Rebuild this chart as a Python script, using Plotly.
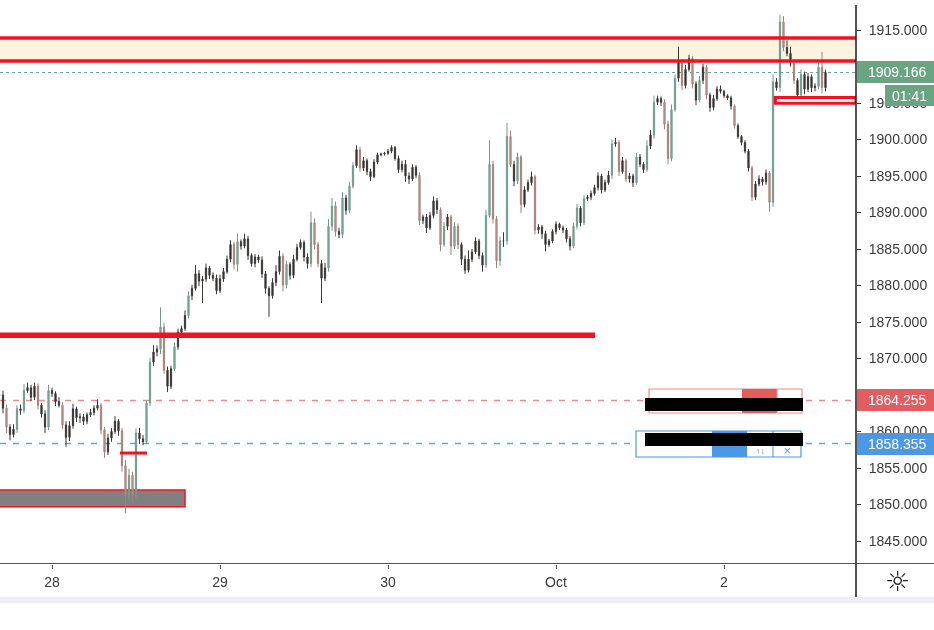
import pandas as pd
import plotly.graph_objects as go

START = "2020-09-27 16:30"
closes = [
 1865.0,1863.2,1860.6,1859.6,1860.3,1863.1,1862.9,1865.6,1866.0,1864.7,
 1866.2,1863.6,1862.4,1860.6,1865.6,1865.2,1864.1,1863.6,1860.9,1859.2,
 1860.8,1863.1,1861.9,1862.0,1861.4,1862.3,1862.6,1863.2,1863.6,1860.2,
 1857.2,1859.1,1860.0,1861.4,1860.1,1855.3,1851.2,1854.0,1851.3,1859.8,
 1859.0,1858.6,1863.9,1869.5,1870.9,1871.3,1874.3,1868.4,1866.2,1868.6,
 1871.6,1873.6,1874.1,1875.9,1878.6,1879.6,1881.6,1880.6,1880.9,1882.4,
 1881.4,1881.0,1879.3,1880.9,1881.9,1883.6,1885.6,1882.9,1886.0,1885.4,
 1886.4,1884.1,1883.0,1883.9,1883.5,1881.6,1879.6,1878.6,1880.4,1881.9,
 1884.0,1880.1,1882.9,1881.4,1883.6,1885.2,1885.9,1883.9,1883.0,1888.6,
 1885.6,1883.0,1881.0,1882.4,1888.1,1890.9,1887.4,1887.0,1892.0,1890.3,
 1893.6,1896.4,1898.6,1896.1,1897.1,1895.6,1894.9,1896.9,1897.9,1898.0,
 1898.1,1898.4,1898.9,1897.4,1895.9,1896.6,1895.0,1894.6,1896.2,1895.1,
 1888.9,1889.4,1887.9,1889.6,1891.6,1890.4,1885.6,1888.1,1889.4,1885.4,
 1888.1,1885.6,1883.6,1882.1,1883.6,1884.6,1886.1,1884.1,1882.8,1889.6,
 1896.6,1889.1,1883.4,1886.1,1886.1,1900.4,1896.6,1894.3,1897.6,1891.1,
 1893.1,1894.1,1894.9,1887.6,1888.0,1887.1,1885.6,1886.1,1887.4,1888.4,
 1887.9,1887.6,1886.4,1885.4,1888.1,1890.6,1888.6,1891.9,1892.1,1892.6,
 1893.4,1895.0,1893.1,1894.1,1895.1,1899.4,1899.6,1895.6,1897.1,1894.6,
 1895.0,1894.1,1897.6,1896.6,1895.9,1899.1,1900.6,1905.1,1905.6,1905.1,
 1902.1,1897.4,1904.1,1908.4,1910.6,1907.4,1909.6,1911.1,1907.6,1905.4,
 1908.1,1909.9,1906.1,1904.4,1905.6,1906.9,1906.6,1906.0,1905.7,1904.6,
 1901.9,1900.4,1899.6,1898.4,1896.1,1892.1,1893.9,1894.6,1894.2,1895.4,
 1891.4,1907.9,1907.1,1916.1,1912.6,1911.8,1910.6,1908.1,1906.1,1908.9,
 1906.9,1908.6,1907.1,1907.3,1909.9,1907.1,1909.17,
]
upper_wicks = [
 0.8,0.6,0.5,0.4,0.7,0.5,0.6,0.9,0.7,0.4,
 0.5,0.4,0.3,0.5,0.8,0.4,0.3,0.6,0.4,0.5,
 0.6,0.7,0.3,0.5,0.4,0.3,0.5,0.4,0.8,0.3,
 0.4,0.6,0.5,0.7,0.3,0.4,0.8,0.9,0.5,0.6,
 0.7,0.5,0.4,0.6,0.9,0.5,2.7,0.6,0.5,0.4,
 0.6,0.5,0.4,0.7,0.6,0.5,1.2,0.5,0.4,0.6,
 0.3,0.4,0.5,0.6,0.5,0.5,0.6,0.4,1.1,0.3,
 0.7,0.4,0.3,0.4,0.3,0.5,0.4,0.3,0.6,0.9,
 0.8,0.4,0.5,0.3,0.6,0.5,0.4,0.3,0.5,1.5,
 0.6,0.4,0.5,0.7,1.0,1.1,0.6,0.5,0.8,0.4,
 0.6,0.5,0.6,0.4,0.5,0.3,0.4,0.4,0.3,0.2,
 0.2,0.3,0.3,0.2,0.4,0.5,0.6,0.5,0.4,0.3,
 0.4,0.3,0.4,0.5,0.6,0.4,0.3,0.6,0.4,0.3,
 0.6,0.4,0.3,0.5,1.2,0.4,0.5,0.3,0.4,0.8,
 3.3,0.5,0.4,0.6,1.2,1.9,0.8,0.5,0.6,0.3,
 0.5,0.4,0.7,0.3,0.4,0.3,0.4,0.3,0.3,0.4,
 0.2,0.3,0.3,0.4,0.5,0.6,0.3,0.5,0.3,0.4,
 0.4,0.5,0.3,0.4,0.6,0.6,0.6,0.3,0.5,0.3,
 0.4,0.3,0.6,0.4,0.3,0.8,0.7,0.9,0.4,0.3,
 0.4,0.5,0.7,0.5,2.1,0.4,0.6,0.5,0.3,0.4,
 0.6,0.5,0.3,0.3,0.5,0.4,0.5,0.2,0.2,0.3,
 0.2,0.3,0.2,0.3,0.3,0.3,0.4,0.5,0.3,0.5,
 0.3,1.0,0.5,1.0,0.8,1.0,0.9,0.4,0.3,0.7,
 0.4,0.5,0.3,0.4,0.9,2.1,0.4,
]
lower_wicks = [
 0.9,0.7,0.8,0.8,0.4,0.5,0.6,0.4,0.3,0.5,
 0.4,0.6,0.5,0.8,0.4,0.5,0.6,0.3,0.6,1.3,
 0.5,0.4,0.6,0.7,0.5,0.4,0.3,0.4,0.3,0.6,
 0.8,0.4,0.5,0.3,0.7,0.8,2.4,0.6,0.9,0.5,
 0.7,0.5,0.3,0.4,0.5,0.6,0.7,0.5,0.8,0.4,
 0.3,0.4,0.5,0.3,0.4,0.6,0.3,0.7,3.0,0.4,
 0.5,0.4,0.5,0.3,0.4,0.3,0.4,0.7,1.0,0.5,
 0.3,0.6,0.4,0.5,0.4,0.6,0.7,2.9,0.4,0.5,
 0.4,0.9,0.5,0.6,0.4,0.3,0.3,0.6,0.7,0.5,
 0.7,0.5,3.4,0.4,0.5,0.6,0.7,0.5,0.5,0.6,
 0.4,0.3,0.3,0.5,0.4,0.5,0.6,0.2,0.3,0.2,
 0.2,0.2,0.3,0.3,0.5,0.4,0.8,0.7,0.3,0.4,
 0.6,0.5,0.7,0.3,0.4,0.6,0.9,0.3,0.5,1.2,
 0.4,0.6,0.8,0.5,0.3,0.4,0.3,0.5,0.9,0.4,
 0.3,0.6,1.0,0.7,0.8,0.5,0.4,0.7,0.4,1.2,
 0.4,0.3,0.4,0.6,0.5,0.7,0.9,0.3,0.3,0.4,
 0.3,0.4,0.5,0.6,0.3,0.4,0.5,0.3,0.3,0.4,
 0.3,0.4,0.5,0.3,0.3,0.5,0.4,0.6,0.3,0.4,
 0.5,0.6,0.3,0.4,0.5,0.3,0.4,0.5,0.4,0.5,
 0.7,0.8,0.4,0.3,0.5,0.6,0.4,0.3,0.6,0.7,
 0.3,0.5,0.6,0.6,0.4,0.3,0.3,0.3,0.3,0.5,
 0.4,0.3,0.4,0.3,0.5,0.5,0.4,0.3,0.5,0.4,
 1.3,0.6,0.4,0.6,0.5,0.4,0.6,0.5,0.5,0.4,
 0.7,0.4,0.6,0.5,0.4,0.8,0.5,
]
tick_days = ["2020-09-28", "2020-09-29", "2020-09-30", "2020-10-01", "2020-10-02"]
tick_day_labels = ["28", "29", "30", "Oct", "2"]
price_ticks = [1845, 1850, 1855, 1860, 1870, 1875, 1880, 1885, 1890, 1895, 1900, 1905, 1915]

zone_top, zone_bottom = 1913.9, 1910.75
long_level = 1873.2
long_level_end = "2020-10-01 05:34"
demand_top, demand_bottom = 1852.0, 1849.7
demand_end = "2020-09-28 19:00"
short_level = 1857.05
short_start, short_end = "2020-09-28 09:43", "2020-09-28 13:34"
box_top, box_bottom = 1905.75, 1904.95
box_start = "2020-10-02 07:20"
last_price, stop_price, entry_price = 1909.166, 1864.255, 1858.355

RED = "#f5101f"; GREEN_TAG = "#6aa583"; RED_TAG = "#e35d60"; BLUE_TAG = "#4c98e2"
W, H = 934, 630
PLOT_W, PLOT_H = 856, 564
PLOT_FRAC = PLOT_W / W

times = pd.date_range(START, periods=len(closes), freq="30min")
opens = [closes[0]] + closes[:-1]
highs = [max(o, c) + u for o, c, u in zip(opens, closes, upper_wicks)]
lows = [min(o, c) - l for o, c, l in zip(opens, closes, lower_wicks)]
df = pd.DataFrame({"t": times, "o": opens, "h": highs, "l": lows, "c": closes})
fast = (df.o - df.c).abs() > 2.4


def px(x):
    return x / W


def py(y):
    return 1 - y / H


fig = go.Figure()
styles = (
    (df[~fast], "#3b3835", "#3b3835", "#2e2b29", "#2e2b29"),
    (df[fast], "#6f9a8c", "#a67f7a", "#7fae9f", "#c79a95"),
)
for part, line_up, line_dn, fill_up, fill_dn in styles:
    fig.add_trace(go.Candlestick(
        x=part.t, open=part.o, high=part.h, low=part.l, close=part.c,
        increasing=dict(line=dict(color=line_up, width=1), fillcolor=fill_up),
        decreasing=dict(line=dict(color=line_dn, width=1), fillcolor=fill_dn),
        whiskerwidth=0, showlegend=False, hoverinfo="skip",
    ))

shapes = []


def price_rect(x0, x1, y0, y1, fill, line=None, lw=0, layer="above", xpaper=False):
    shapes.append(dict(type="rect", xref="paper" if xpaper else "x", yref="y", x0=x0, x1=x1, y0=y0, y1=y1,
                       fillcolor=fill, line=dict(color=line or fill, width=lw), layer=layer))


def price_line(x0, x1, y, color, width, dash="solid", layer="above", xpaper=True):
    shapes.append(dict(type="line", xref="paper" if xpaper else "x", yref="y", x0=x0, x1=x1, y0=y, y1=y,
                       line=dict(color=color, width=width, dash=dash), layer=layer))


def pix_rect(x0, x1, y0, y1, fill, line=None, lw=0, layer="above"):
    shapes.append(dict(type="rect", xref="paper", yref="paper", x0=px(x0), x1=px(x1), y0=py(y0), y1=py(y1),
                       fillcolor=fill, line=dict(color=line or fill, width=lw), layer=layer))


def pix_line(x0, x1, y0, y1, color, width):
    shapes.append(dict(type="line", xref="paper", yref="paper", x0=px(x0), x1=px(x1), y0=py(y0), y1=py(y1),
                       line=dict(color=color, width=width), layer="above"))


# zone, levels
price_rect(0, PLOT_FRAC, zone_bottom, zone_top, "#fdf3de", layer="below", xpaper=True)
price_line(0, PLOT_FRAC, zone_top, RED, 3.5)
price_line(0, PLOT_FRAC, zone_bottom, RED, 3.5)
price_line(0, PLOT_FRAC, last_price, "#5f9f85", 1, "dot", "below")
price_line(0, PLOT_FRAC, stop_price, "#f28b8b", 1.4, "6px,7px", "below")
price_line(0, PLOT_FRAC, entry_price, "#5aa9f0", 1.4, "6px,7px", "below")
price_line(0, long_level_end, long_level, RED, 5.5, xpaper=False)
price_line(short_start, short_end, short_level, RED, 3, xpaper=False)
price_rect("2020-09-27 16:00", demand_end, demand_bottom, demand_top, "#808080", RED, 1.5, "below")
price_rect(box_start, "2020-10-02 18:51", box_bottom, box_top, "#ffffff", RED, 3)

# order boxes on the chart
pix_rect(649, 802, 389, 413, "#ffffff", "#f08a8a", 1.2)
pix_rect(742, 777, 389, 413, RED_TAG)
pix_rect(636, 801, 431, 457, "#ffffff", "#4c98e2", 1.2)
pix_rect(712, 747, 431, 457, BLUE_TAG)
pix_line(773, 773, 431, 457, "#4c98e2", 1)
pix_line(777, 777, 389, 413, "#f08a8a", 1)
pix_rect(645, 803, 398, 411, "#000000")
pix_rect(645, 803, 433, 446, "#000000")

# axis frame
pix_rect(0, W, 597, 603, "#eeeef3")
pix_line(0, W, 563.5, 563.5, "#555555", 1)
pix_line(856, 856, 5, 597, "#2a2a2a", 1.6)

# price tags
pix_rect(857, W, 61, 83, GREEN_TAG)
pix_rect(885, W, 85, 106, GREEN_TAG)
pix_rect(857, W, 389, 411, RED_TAG)
pix_rect(857, W, 433, 455, BLUE_TAG)


def tag(x, y, text, color="#ffffff", size=14, family="Liberation Sans"):
    return dict(xref="paper", yref="paper", x=px(x), y=py(y), text=text, showarrow=False,
                xanchor="center", yanchor="middle", font=dict(color=color, size=size, family=family))


annotations = [
    tag(897, 72, f"{last_price:.3f}"),
    tag(909, 95.5, "01:41"),
    tag(897, 400, f"{stop_price:.3f}"),
    tag(897, 444, f"{entry_price:.3f}"),
    tag(897, 581, "☼", "#222222", 28, "DejaVu Sans"),
    tag(760, 451, "↑↓", "#4c98e2", 9),
    tag(787, 451, "×", "#4c98e2", 12),
]

fig.update_layout(
    width=W, height=H, margin=dict(l=0, r=0, t=0, b=0), autosize=False,
    paper_bgcolor="#ffffff", plot_bgcolor="#ffffff",
    font=dict(family="Liberation Sans", size=14, color="#3a3a3a"),
    shapes=shapes, annotations=annotations, showlegend=False, boxgap=0.5,
    xaxis=dict(
        type="date", domain=[0, PLOT_FRAC], range=["2020-09-27 16:34:17", "2020-10-02 18:51:26"],
        rangeslider=dict(visible=False), showgrid=False, zeroline=False, showline=False,
        tickmode="array", tickvals=tick_days, ticktext=tick_day_labels,
        ticks="outside", ticklen=4, tickcolor="#555555", tickwidth=1, ticklabelstandoff=1,
    ),
    yaxis=dict(
        side="right", domain=[1 - PLOT_H / H, 1], range=[1841.85, 1919.11],
        showgrid=False, zeroline=False, showline=False,
        tickmode="array", tickvals=price_ticks, tickformat=".3f",
        ticks="outside", ticklen=4, tickcolor="#333333", tickwidth=1, ticklabelstandoff=5,
    ),
)
fig.write_html(
    "out.html",
    config={"displayModeBar": False},
    post_script="document.body.style.margin='0';document.querySelector('.js-plotly-plot').style.filter='blur(0.6px)';",
)
